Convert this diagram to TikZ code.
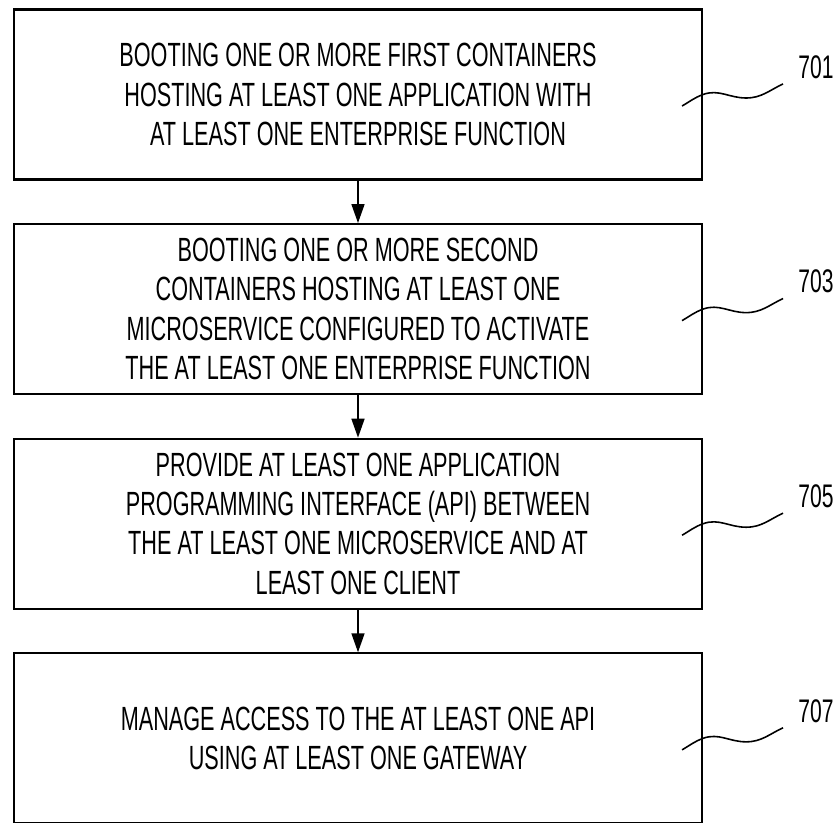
\documentclass[tikz,border=0pt]{standalone}
\usepackage{fontspec}
\setmainfont{Liberation Sans}[FakeStretch=0.645]
\usepackage{tikz}
\usetikzlibrary{
  arrows.meta,
  calc,
  positioning}

\begin{document}
\begin{tikzpicture}[
    >={Triangle[length=0.38cm,width=0.26cm]},
    stepbox/.style={draw,line width=1.2pt,minimum width=13.76cm,minimum height=3.4cm,
      align=center,font=\fontsize{19.1}{22.4}\selectfont},
    flow/.style={->,line width=0.9pt},
    lead/.style={line width=0.9pt},
    tag/.style={anchor=west,inner sep=0pt,font=\fontsize{18.6}{22}\selectfont}]
    \useasboundingbox (0,0) rectangle (16.68,-16.44);
    \node[stepbox] (b701) at (7.16,-1.89) {BOOTING ONE OR MORE FIRST CONTAINERS\\HOSTING AT LEAST ONE APPLICATION WITH\\AT LEAST ONE ENTERPRISE FUNCTION};
    \node[stepbox,below=0.85cm of b701] (b703) {BOOTING ONE OR MORE SECOND\\CONTAINERS HOSTING AT LEAST ONE\\MICROSERVICE CONFIGURED TO ACTIVATE\\THE AT LEAST ONE ENTERPRISE FUNCTION};
    \node[stepbox,below=0.85cm of b703] (b705) {PROVIDE AT LEAST ONE APPLICATION\\PROGRAMMING INTERFACE (API) BETWEEN\\THE AT LEAST ONE MICROSERVICE AND AT\\LEAST ONE CLIENT};
    \node[stepbox,below=0.85cm of b705] (b707) {MANAGE ACCESS TO THE AT LEAST ONE API\\USING AT LEAST ONE GATEWAY};
    \draw[flow] (b701) -- (b703);
    \draw[flow] (b703) -- (b705);
    \draw[flow] (b705) -- (b707);
    % reference numerals
    \node[tag] (l701) at ($(b701.east)+(1.9,0.55)$) {701};
    \node[tag] (l703) at ($(b703.east)+(1.9,0.55)$) {703};
    \node[tag] (l705) at ($(b705.east)+(1.9,0.55)$) {705};
    \node[tag] (l707) at ($(b707.east)+(1.9,0.55)$) {707};
    \draw[lead] ([shift={(-0.42,-0.23)}]b701.east) to[out=30,in=200] (b701.east)
      to[out=20,in=180] ([shift={(0.86,-0.07)}]b701.east) to[out=0,in=205] ([shift={(-0.3,-0.1)}]l701.south west);
    \draw[lead] ([shift={(-0.42,-0.23)}]b703.east) to[out=30,in=200] (b703.east)
      to[out=20,in=180] ([shift={(0.86,-0.07)}]b703.east) to[out=0,in=205] ([shift={(-0.3,-0.1)}]l703.south west);
    \draw[lead] ([shift={(-0.42,-0.23)}]b705.east) to[out=30,in=200] (b705.east)
      to[out=20,in=180] ([shift={(0.86,-0.07)}]b705.east) to[out=0,in=205] ([shift={(-0.3,-0.1)}]l705.south west);
    \draw[lead] ([shift={(-0.42,-0.23)}]b707.east) to[out=30,in=200] (b707.east)
      to[out=20,in=180] ([shift={(0.86,-0.07)}]b707.east) to[out=0,in=205] ([shift={(-0.3,-0.1)}]l707.south west);
\end{tikzpicture}
\end{document}
